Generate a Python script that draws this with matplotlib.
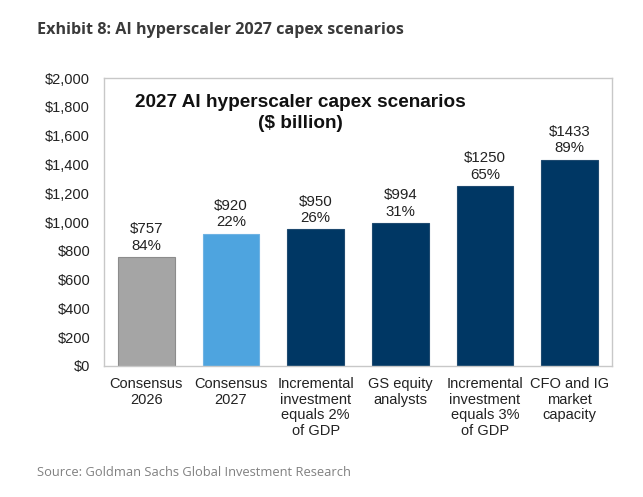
import matplotlib.pyplot as plt
from matplotlib.ticker import FuncFormatter

categories = [
    "Consensus\n2026",
    "Consensus\n2027",
    "Incremental\ninvestment\nequals 2%\nof GDP",
    "GS equity\nanalysts",
    "Incremental\ninvestment\nequals 3%\nof GDP",
    "CFO and IG\nmarket\ncapacity",
]
capex = [757, 920, 950, 994, 1250, 1433]
growth = ["84%", "22%", "26%", "31%", "65%", "89%"]
colors = ["#a5a5a5", "#4ea4df", "#003764", "#003764", "#003764", "#003764"]
edges = ["#8c8c8c", "#6fb3e3", "#1f4a70", "#1f4a70", "#1f4a70", "#1f4a70"]


def main() -> None:
    plt.rcParams["font.family"] = ["Liberation Sans", "DejaVu Sans"]
    fig = plt.figure(figsize=(6.43, 4.97), dpi=100)
    ax = fig.add_axes([104 / 643, 1 - 366 / 497, 508 / 643, 288 / 497])

    x = range(len(categories))
    ax.bar(x, capex, width=0.67, color=colors, edgecolor=edges, linewidth=0.8)
    for i, (v, g) in enumerate(zip(capex, growth)):
        ax.text(i, v + 30, f"${v}\n{g}", ha="center", va="bottom",
                fontsize=10.8, color="#222222", linespacing=1.2)

    ax.set_xlim(-0.5, len(categories) - 0.5)
    ax.set_ylim(0, 2000)
    ax.set_yticks(range(0, 2001, 200))
    ax.yaxis.set_major_formatter(FuncFormatter(lambda v, _: f"${v:,.0f}"))
    ax.set_xticks(list(x))
    ax.set_xticklabels(categories, fontsize=10.5, linespacing=1.14, color="#222222")
    ax.tick_params(axis="both", length=0, labelsize=10.5, colors="#222222")
    ax.tick_params(axis="y", pad=10)
    ax.tick_params(axis="x", pad=8)
    for side in ax.spines.values():
        side.set_color("#c8c8c8")
        side.set_linewidth(1.0)

    ax.text(0.386, 0.945, "2027 AI hyperscaler capex scenarios\n($ billion)",
            transform=ax.transAxes, ha="center", va="top", fontsize=13.7,
            fontweight="bold", color="#111111", linespacing=1.3)

    fig.text(37 / 643, 1 - 30 / 497, "Exhibit 8: AI hyperscaler 2027 capex scenarios",
             ha="left", va="center", fontsize=11.6, fontweight="bold", color="#3a3a3a",
             family=["Open Sans", "DejaVu Sans"])
    fig.text(37 / 643, 1 - 472 / 497, "Source: Goldman Sachs Global Investment Research",
             ha="left", va="center", fontsize=9.3, color="#808080",
             family=["Open Sans", "DejaVu Sans"])

    fig.savefig("out.png", dpi=100)
    plt.close(fig)


if __name__ == "__main__":
    main()
